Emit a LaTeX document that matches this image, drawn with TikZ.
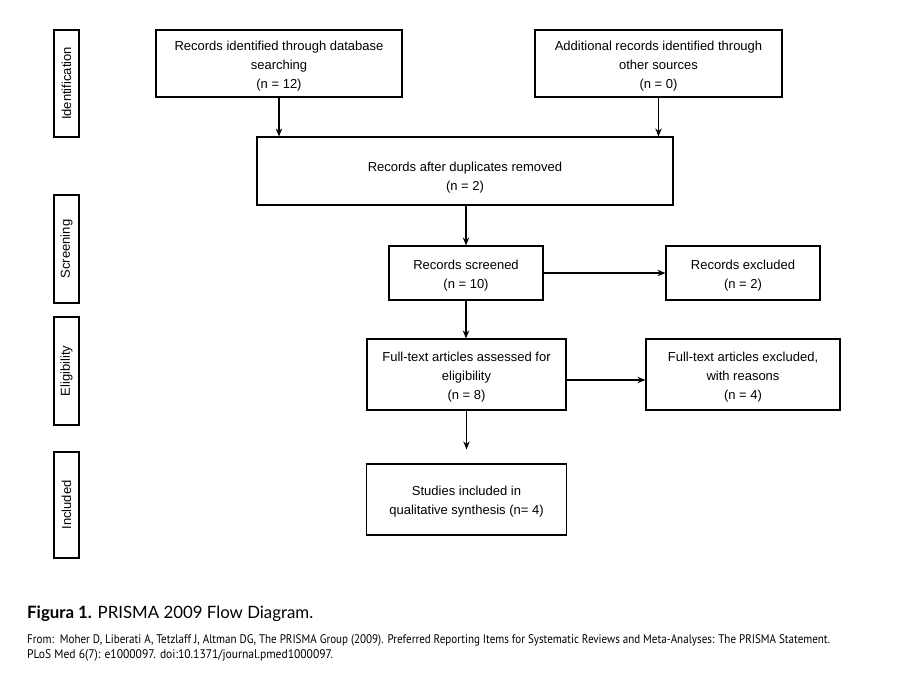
\documentclass[tikz,border=0pt]{standalone}
\usepackage{fontspec}
\usepackage{graphicx}
\setmainfont{Liberation Sans}
\newfontfamily\capfont{Lato}
\newfontfamily\reffont{PT Sans}
\usetikzlibrary{arrows.meta}
\newcommand\tup{\rule{0pt}{14.5pt}}
\begin{document}
\begin{tikzpicture}[x=1pt,y=-1pt,
  box/.style={draw, line width=1.2pt, inner sep=0pt, align=center,
    font=\fontsize{13}{19}\selectfont},
  sidebox/.style={draw, line width=1.2pt, inner sep=0pt, rotate=90,
    minimum height=25pt, font=\fontsize{13}{16}\selectfont},
  arr/.style={line width=1.2pt, -{Stealth[length=8pt,width=6.5pt]}}]
\useasboundingbox (0,0) rectangle (912,696);
% phase labels
\node[sidebox, minimum width=107pt] (sIdent) at (66.5,83.5) {Identification};
\node[sidebox, minimum width=108pt] (sScreen) at (66.5,249) {Screening};
\node[sidebox, minimum width=108pt] (sElig) at (66.5,371) {Eligibility};
\node[sidebox, minimum width=106pt] (sIncl) at (66.5,505) {Included};
% boxes
\node[box, minimum width=246pt, minimum height=67pt] (db) at (279,63.5)
  {\tup Records identified through database\\searching\\(n = 12)};
\node[box, minimum width=247pt, minimum height=67pt] (add) at (658.5,63.5)
  {\tup Additional records identified through\\other sources\\(n = 0)};
\node[box, minimum width=416pt, minimum height=68pt] (dup) at (465,171)
  {\rule{0pt}{22.5pt}Records after duplicates removed\\(n = 2)};
\node[box, minimum width=154pt, minimum height=54pt] (scr) at (466,273)
  {\tup Records screened\\(n = 10)};
\node[box, minimum width=154pt, minimum height=54pt] (exc) at (743,273)
  {\tup Records excluded\\(n = 2)};
\node[box, minimum width=199pt, minimum height=71pt] (fta) at (466.5,374.5)
  {\tup Full-text articles assessed for\\eligibility\\(n = 8)};
\node[box, minimum width=194pt, minimum height=71pt] (fte) at (743,374.5)
  {\tup Full-text articles excluded,\\with reasons\\(n = 4)};
\node[box, minimum width=200pt, minimum height=71pt] (inc) at (466.5,499.5)
  {\tup Studies included in\\qualitative synthesis (n= 4)};
% arrows
\draw[arr] (db.south) -- (db.south |- dup.north);
\draw[arr] (add.south) -- (add.south |- dup.north);
\draw[arr] (dup.south -| scr.north) -- (scr.north);
\draw[arr] (scr.east) -- (exc.west);
\draw[arr] (scr.south) -- (scr.south |- fta.north);
\draw[arr] ([yshift=-5.5pt]fta.east) -- ([yshift=-5.5pt]fte.west);
\draw[arr, shorten >=14pt] (fta.south) -- (fta.south |- inc.north);
% caption
\node[anchor=base west, inner sep=0pt, font=\capfont\fontsize{17}{20}\selectfont] (cap) at (27,618)
  {\resizebox{286pt}{\height}{{\bfseries Figura 1.} PRISMA 2009 Flow Diagram.}};
\node[anchor=base west, inner sep=0pt, font=\reffont\fontsize{12.5}{15}\selectfont] (ref1) at (27,643)
  {\resizebox{803pt}{\height}{From:\ \ Moher D, Liberati A, Tetzlaff J, Altman DG, The PRISMA Group (2009). Preferred Reporting Items for Systematic Reviews and Meta-Analyses: The PRISMA Statement.}};
\node[anchor=base west, inner sep=0pt, font=\reffont\fontsize{12.5}{15}\selectfont] (ref2) at (27,658)
  {\resizebox{306pt}{\height}{PLoS Med 6(7): e1000097. doi:10.1371/journal.pmed1000097.}};
\end{tikzpicture}
\end{document}
